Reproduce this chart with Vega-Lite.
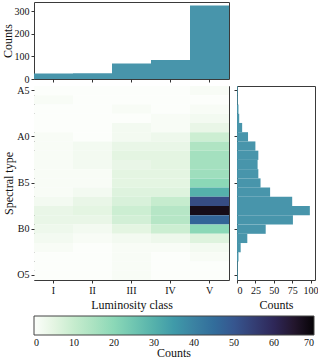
{
  "$schema": "https://vega.github.io/schema/vega-lite/v6.json",
  "padding": {"left": 0, "top": 1, "right": 0, "bottom": 0},
  "background": "white",
  "datasets": {
    "cells": [
      {"spec":"A5","lum":"I","n":0},{"spec":"A5","lum":"II","n":0},{"spec":"A5","lum":"III","n":0},{"spec":"A5","lum":"IV","n":0},{"spec":"A5","lum":"V","n":1},
      {"spec":"A4","lum":"I","n":1},{"spec":"A4","lum":"II","n":0},{"spec":"A4","lum":"III","n":0},{"spec":"A4","lum":"IV","n":0},{"spec":"A4","lum":"V","n":0},
      {"spec":"A3","lum":"I","n":0},{"spec":"A3","lum":"II","n":0},{"spec":"A3","lum":"III","n":1},{"spec":"A3","lum":"IV","n":0},{"spec":"A3","lum":"V","n":1},
      {"spec":"A2","lum":"I","n":0},{"spec":"A2","lum":"II","n":0},{"spec":"A2","lum":"III","n":0},{"spec":"A2","lum":"IV","n":1},{"spec":"A2","lum":"V","n":2},
      {"spec":"A1","lum":"I","n":0},{"spec":"A1","lum":"II","n":0},{"spec":"A1","lum":"III","n":2},{"spec":"A1","lum":"IV","n":1},{"spec":"A1","lum":"V","n":4},
      {"spec":"A0","lum":"I","n":1},{"spec":"A0","lum":"II","n":0},{"spec":"A0","lum":"III","n":2},{"spec":"A0","lum":"IV","n":3},{"spec":"A0","lum":"V","n":9},
      {"spec":"B9","lum":"I","n":1},{"spec":"B9","lum":"II","n":2},{"spec":"B9","lum":"III","n":4},{"spec":"B9","lum":"IV","n":4},{"spec":"B9","lum":"V","n":14},
      {"spec":"B8","lum":"I","n":1},{"spec":"B8","lum":"II","n":2},{"spec":"B8","lum":"III","n":5},{"spec":"B8","lum":"IV","n":5},{"spec":"B8","lum":"V","n":16},
      {"spec":"B7","lum":"I","n":1},{"spec":"B7","lum":"II","n":2},{"spec":"B7","lum":"III","n":4},{"spec":"B7","lum":"IV","n":5},{"spec":"B7","lum":"V","n":16},
      {"spec":"B6","lum":"I","n":1},{"spec":"B6","lum":"II","n":1},{"spec":"B6","lum":"III","n":5},{"spec":"B6","lum":"IV","n":5},{"spec":"B6","lum":"V","n":17},
      {"spec":"B5","lum":"I","n":1},{"spec":"B5","lum":"II","n":1},{"spec":"B5","lum":"III","n":5},{"spec":"B5","lum":"IV","n":5},{"spec":"B5","lum":"V","n":20},
      {"spec":"B4","lum":"I","n":1},{"spec":"B4","lum":"II","n":2},{"spec":"B4","lum":"III","n":6},{"spec":"B4","lum":"IV","n":6},{"spec":"B4","lum":"V","n":30},
      {"spec":"B3","lum":"I","n":2},{"spec":"B3","lum":"II","n":4},{"spec":"B3","lum":"III","n":7},{"spec":"B3","lum":"IV","n":10},{"spec":"B3","lum":"V","n":52},
      {"spec":"B2","lum":"I","n":4},{"spec":"B2","lum":"II","n":5},{"spec":"B2","lum":"III","n":9},{"spec":"B2","lum":"IV","n":13},{"spec":"B2","lum":"V","n":68},
      {"spec":"B1","lum":"I","n":4},{"spec":"B1","lum":"II","n":4},{"spec":"B1","lum":"III","n":8},{"spec":"B1","lum":"IV","n":13},{"spec":"B1","lum":"V","n":47},
      {"spec":"B0","lum":"I","n":3},{"spec":"B0","lum":"II","n":2},{"spec":"B0","lum":"III","n":5},{"spec":"B0","lum":"IV","n":9},{"spec":"B0","lum":"V","n":20},
      {"spec":"O9","lum":"I","n":2},{"spec":"O9","lum":"II","n":1},{"spec":"O9","lum":"III","n":2},{"spec":"O9","lum":"IV","n":3},{"spec":"O9","lum":"V","n":6},
      {"spec":"O8","lum":"I","n":1},{"spec":"O8","lum":"II","n":0},{"spec":"O8","lum":"III","n":1},{"spec":"O8","lum":"IV","n":1},{"spec":"O8","lum":"V","n":2},
      {"spec":"O7","lum":"I","n":0},{"spec":"O7","lum":"II","n":0},{"spec":"O7","lum":"III","n":1},{"spec":"O7","lum":"IV","n":0},{"spec":"O7","lum":"V","n":1},
      {"spec":"O6","lum":"I","n":0},{"spec":"O6","lum":"II","n":0},{"spec":"O6","lum":"III","n":1},{"spec":"O6","lum":"IV","n":0},{"spec":"O6","lum":"V","n":0},
      {"spec":"O5","lum":"I","n":0},{"spec":"O5","lum":"II","n":0},{"spec":"O5","lum":"III","n":1},{"spec":"O5","lum":"IV","n":0},{"spec":"O5","lum":"V","n":0}
    ]
  },
  "config": {
    "font": "Liberation Serif",
    "view": {"stroke": "#3a3a3a", "strokeWidth": 1},
    "axis": {
      "labelFont": "Liberation Serif", "titleFont": "Liberation Serif",
      "labelFontSize": 10, "titleFontSize": 12, "titleFontWeight": "normal",
      "labelColor": "#111", "titleColor": "#111", "tickColor": "#333",
      "domain": false, "grid": false, "tickSize": 3, "labelPadding": 2, "titlePadding": 4
    },
    "legend": {
      "labelFont": "Liberation Serif", "titleFont": "Liberation Serif",
      "labelFontSize": 10, "titleFontSize": 12, "titleFontWeight": "normal",
      "labelColor": "#111", "titleColor": "#111"
    }
  },
  "bounds": "flush",
  "spacing": 7,
  "vconcat": [
    {
      "width": 195,
      "height": 77,
      "data": {"name": "cells"},
      "mark": {"type": "bar", "color": "#4895ab"},
      "encoding": {
        "x": {"field": "lum", "type": "ordinal", "sort": ["I","II","III","IV","V"],
              "scale": {"paddingInner": 0, "paddingOuter": 0},
              "axis": {"labels": false, "title": null}},
        "y": {"aggregate": "sum", "field": "n", "type": "quantitative",
              "scale": {"domain": [0, 341], "nice": false},
              "axis": {"values": [0, 100, 200, 300], "title": "Counts", "titlePadding": 0}}
      }
    },
    {
      "bounds": "flush",
      "spacing": 8,
      "hconcat": [
        {
          "width": 195,
          "height": 194,
          "data": {"name": "cells"},
          "mark": {"type": "rect"},
          "encoding": {
            "x": {"field": "lum", "type": "ordinal", "sort": ["I","II","III","IV","V"],
                  "scale": {"paddingInner": 0, "paddingOuter": 0},
                  "axis": {"labelAngle": 0, "title": "Luminosity class"}},
            "y": {"field": "spec", "type": "ordinal",
                  "scale": {"domain": ["A5","A4","A3","A2","A1","A0","B9","B8","B7","B6","B5","B4","B3","B2","B1","B0","O9","O8","O7","O6","O5"], "paddingInner": 0, "paddingOuter": 0},
                  "axis": {"values": ["A5","A0","B5","B0","O5"], "title": "Spectral type", "titlePadding": 1}},
            "color": {"field": "n", "type": "quantitative",
                      "scale": {"domain": [0,10,20,30,40,50,60,70],
                                "range": ["#fcfefb","#c6ecce","#8bd8b7","#55b1ab","#3b82a2","#36568f","#2e2758","#060306"]},
                      "legend": {"orient": "none", "legendX": 0, "legendY": 314, "direction": "horizontal",
                                 "gradientLength": 280, "gradientThickness": 19,
                                 "gradientStrokeColor": "#444", "gradientStrokeWidth": 1,
                                 "values": [0,10,20,30,40,50,60,70], "labelOverlap": false,
                                 "labelAlign": "center", "labelOffset": 3,
                                 "title": "Counts", "titleOrient": "bottom", "titleAnchor": "middle", "titlePadding": 0}}
          }
        },
        {
          "width": 78,
          "height": 194,
          "data": {"name": "cells"},
          "mark": {"type": "bar", "color": "#4895ab", "orient": "horizontal"},
          "encoding": {
            "y": {"field": "spec", "type": "ordinal",
                  "scale": {"domain": ["A5","A4","A3","A2","A1","A0","B9","B8","B7","B6","B5","B4","B3","B2","B1","B0","O9","O8","O7","O6","O5"], "paddingInner": 0, "paddingOuter": 0},
                  "axis": {"values": ["A5","A0","B5","B0","O5"], "labels": false, "title": null}},
            "x": {"aggregate": "sum", "field": "n", "type": "quantitative",
                  "scale": {"domain": [0, 106], "nice": false},
                  "axis": {"values": [0, 25, 50, 75, 100], "title": "Counts"}}
          }
        }
      ]
    }
  ]
}
